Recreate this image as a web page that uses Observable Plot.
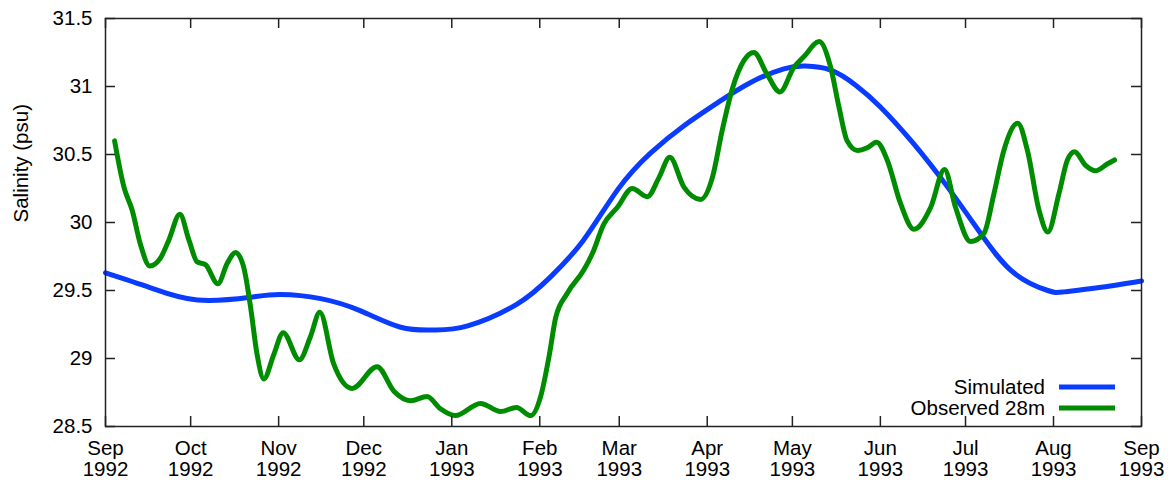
<!DOCTYPE html>
<html>
<head>
<meta charset="utf-8">
<script src="https://cdn.jsdelivr.net/npm/d3@7"></script>
<script src="https://cdn.jsdelivr.net/npm/@observablehq/plot@0.6"></script>
<style>
  html, body { margin: 0; padding: 0; background: #fff; }
  #chart svg { display: block; }
</style>
</head>
<body>
<div id="chart"></div>
<script>
// Salinity at 28 m, Sep 1992 – Sep 1993: model run vs. mooring record.
// Times are days since 1 Sep 1992.

const simDay = [0, 15.9, 32.4, 51, 61.7, 75.8, 89.9, 104, 115.6, 127.6, 145, 156.8, 168.4, 180.4,
  192, 203.7, 215.6, 227.3, 239, 246.6, 255.5, 264.3, 273, 284.7, 296.7, 308.3, 320, 332, 337.6, 349.5, 365];
const simSalinity = [29.63, 29.52, 29.43, 29.45, 29.47, 29.44, 29.35, 29.23, 29.21, 29.24, 29.40, 29.60, 29.87, 30.24,
  30.51, 30.71, 30.88, 31.03, 31.13, 31.15, 31.12, 31.01, 30.85, 30.58, 30.26, 29.92, 29.63, 29.50, 29.49, 29.52, 29.57];

const obsDay = [3.2, 6.5, 9.4, 12.3, 15.6, 19.4, 22.3, 26.2, 29.4, 32.3, 35.2, 39.6, 42.9, 45.8, 48.7, 51.1, 53.4,
  55.8, 59.3, 62.6, 68.3, 72.2, 75.5, 80.4, 86.9, 95.7, 101.6, 107.5, 113.3, 118, 123.3, 132.1, 139.2, 144.8,
  149.8, 153.3, 156.4, 158.6, 162.7, 168.5, 171.5, 175.6, 180.3, 185.6, 190.9, 195, 198.8, 203.8, 209.7, 213.8,
  217.3, 220.8, 224.9, 228.4, 233.1, 237.6, 242.5, 246.1, 251.4, 255.5, 258.4, 261.3, 264.9, 268.4, 271.7,
  275.4, 280.1, 284.8, 290.7, 295.6, 299.5, 304.8, 309.5, 313, 316.5, 321.4, 324.8, 328.9, 332, 335.9, 338.9,
  341.4, 345.3, 348.8, 352.9, 355.5];
const obsSalinity = [30.60, 30.26, 30.09, 29.84, 29.68, 29.74, 29.87, 30.06, 29.87, 29.71, 29.69, 29.55, 29.70, 29.78, 29.67, 29.38, 29.03,
  28.85, 29.03, 29.19, 28.99, 29.16, 29.34, 28.96, 28.78, 28.94, 28.76, 28.69, 28.72, 28.63, 28.58, 28.67, 28.61, 28.64,
  28.58, 28.72, 29.03, 29.30, 29.48, 29.65, 29.77, 29.99, 30.11, 30.25, 30.19, 30.33, 30.48, 30.26, 30.17, 30.33,
  30.68, 30.98, 31.19, 31.25, 31.09, 30.96, 31.14, 31.22, 31.33, 31.14, 30.85, 30.60, 30.53, 30.55, 30.59,
  30.46, 30.14, 29.95, 30.11, 30.39, 30.11, 29.86, 29.92, 30.21, 30.53, 30.73, 30.53, 30.09, 29.93, 30.21, 30.46,
  30.52, 30.42, 30.38, 30.43, 30.46];

const monthTicks = ["1992-09-01", "1992-10-01", "1992-11-01", "1992-12-01", "1993-01-01", "1993-02-01", "1993-03-01",
  "1993-04-01", "1993-05-01", "1993-06-01", "1993-07-01", "1993-08-01", "1993-09-01"];
const salinityTicks = [28.5, 29, 29.5, 30, 30.5, 31, 31.5];
const seriesNames = ["Simulated", "Observed 28m"];
const seriesColors = ["#0a3cff", "#008c00"];

const start = Date.UTC(1992, 8, 1);
const toDate = d => new Date(start + d * 864e5);

const simulated = simDay.map((d, i) => ({date: toDate(d), salinity: simSalinity[i]}));
const observed = obsDay.map((d, i) => ({date: toDate(d), salinity: obsSalinity[i]}));
const ticks = monthTicks.map(s => new Date(s + "T00:00:00Z"));
const monthName = d3.utcFormat("%b");
const yearName = d3.utcFormat("%Y");

const W = 1169, H = 480;
const mL = 105, mR = 28, mT = 18, mB = 54;
const innerW = W - mL - mR, innerH = H - mT - mB;
const tickLen = 10;
const fs = 20.5;
const font = "'Liberation Sans', Arial, Helvetica, sans-serif";

const chart = Plot.plot({
  width: W,
  height: H,
  marginLeft: mL,
  marginRight: mR,
  marginTop: mT,
  marginBottom: mB,
  style: {fontFamily: font, fontSize: `${fs}px`, color: "#000", background: "#fff"},
  x: {type: "utc", domain: [ticks[0], ticks[ticks.length - 1]]},
  y: {domain: [28.5, 31.5]},
  marks: [
    Plot.line(simulated, {x: "date", y: "salinity", stroke: seriesColors[0], strokeWidth: 5, curve: "natural"}),
    Plot.line(observed, {x: "date", y: "salinity", stroke: seriesColors[1], strokeWidth: 5, curve: "monotone-x"}),
    // inward ticks on all four sides
    Plot.tickX(ticks, {x: d => d, insetTop: innerH - tickLen, stroke: "#222", strokeWidth: 1.5}),
    Plot.tickX(ticks, {x: d => d, insetBottom: innerH - tickLen, stroke: "#222", strokeWidth: 1.5}),
    Plot.tickY(salinityTicks, {y: d => d, insetRight: innerW - tickLen, stroke: "#222", strokeWidth: 1.5}),
    Plot.tickY(salinityTicks, {y: d => d, insetLeft: innerW - tickLen, stroke: "#222", strokeWidth: 1.5}),
    // month on the first line, year on the second
    Plot.axisX(ticks, {tickSize: 0, tickPadding: 14, fontSize: fs, label: null, tickFormat: monthName}),
    Plot.axisX(ticks, {tickSize: 0, tickPadding: 35, fontSize: fs, label: null, tickFormat: yearName}),
    Plot.axisY(salinityTicks, {
      tickSize: 0, tickPadding: 13, fontSize: fs, label: null,
      tickFormat: d => String(d)
    }),
    Plot.text(["Salinity (psu)"], {frameAnchor: "left", rotate: -90, dx: -84, fontSize: fs}),
    Plot.frame({stroke: "#222", strokeWidth: 1.5})
  ]
});

// legend in the lower-right corner of the frame
const svg = d3.select(chart);
const legend = svg.append("g").attr("font-family", font).attr("font-size", fs);
seriesNames.forEach((name, i) => {
  const y = H - mB - 39 + i * 21;
  const right = W - mR;
  legend.append("text")
    .attr("x", right - 96).attr("y", y).attr("dy", "0.35em")
    .attr("text-anchor", "end").attr("fill", "#000").text(name);
  legend.append("line")
    .attr("x1", right - 82).attr("x2", right - 26).attr("y1", y).attr("y2", y)
    .attr("stroke", seriesColors[i]).attr("stroke-width", 5);
});

document.getElementById("chart").appendChild(chart);
</script>
</body>
</html>
